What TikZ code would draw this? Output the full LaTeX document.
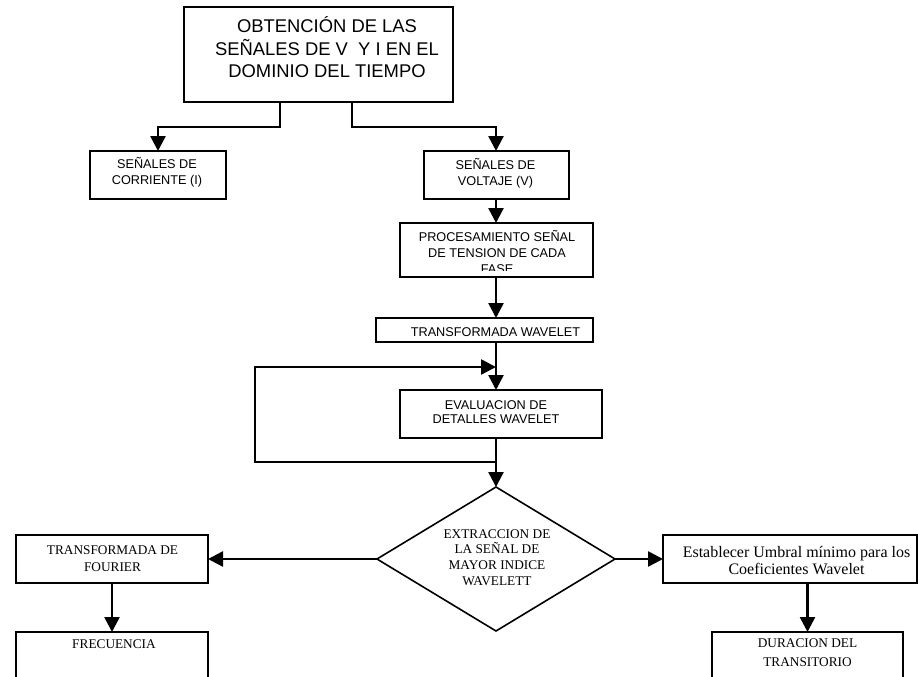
\documentclass[tikz,border=0pt]{standalone}
\usepackage{fontspec}
\setmainfont{Liberation Serif}
\setsansfont{Liberation Sans}
\usetikzlibrary{arrows.meta,shapes.geometric}
\begin{document}
\begin{tikzpicture}[x=1pt,y=-1pt,
  box/.style={draw,line width=2pt,inner sep=0pt,outer sep=0pt,fill=white},
  conn/.style={line width=2.6pt,-{Triangle[length=15pt,width=15pt]}},
  sanslg/.style={font=\sffamily\fontsize{18.4}{22.5}\selectfont,align=center,inner sep=0pt},
  sans/.style={font=\sffamily\fontsize{12.7}{16}\selectfont,align=center,inner sep=0pt},
  serif/.style={font=\rmfamily\fontsize{13.3}{17}\selectfont,align=center,inner sep=0pt},
  seriflg/.style={font=\rmfamily\fontsize{16}{17}\selectfont,align=center,inner sep=0pt},
]
\useasboundingbox (0,0) rectangle (918,677);
\clip (0,0) rectangle (918,677);

% boxes
\node[box,minimum width=269pt,minimum height=95pt] (top) at (318.5,54.5) {};
\node[box,minimum width=136pt,minimum height=48pt] (corr) at (158,175) {};
\node[box,minimum width=145pt,minimum height=48pt] (volt) at (496,175) {};
\node[box,minimum width=193pt,minimum height=54pt] (proc) at (496,250) {};
\node[box,minimum width=217pt,minimum height=24pt] (tw) at (484.5,330) {};
\node[box,minimum width=202pt,minimum height=48pt] (eval) at (501,414) {};
\node[draw,diamond,line width=1.6pt,inner sep=0pt,outer sep=0pt,minimum width=238pt,minimum height=144pt] (dia) at (496,559) {};
\node[box,minimum width=192pt,minimum height=48pt] (four) at (112,559) {};
\node[box,minimum width=192pt,minimum height=70pt] (freq) at (112,667) {};
\node[box,minimum width=254pt,minimum height=48pt] (estab) at (790,559) {};
\node[box,minimum width=191pt,minimum height=70pt] (dur) at (807.5,667) {};

% texts
\node[sanslg] (ttop) at (327,47.5) {OBTENCIÓN DE LAS\\SEÑALES DE V\ \ Y I EN EL\\DOMINIO DEL TIEMPO};
\node[sans] (tcorr) at (157,172.5) {SEÑALES DE\\CORRIENTE (I)};
\node[sans] (tvolt) at (495.5,173) {SEÑALES DE\\VOLTAJE (V)};
\begin{scope}
  \clip (399,223) rectangle (592,270.5);
  \node[sans] (tproc) at (497,252) {PROCESAMIENTO SEÑAL\\DE TENSION DE CADA\\FASE};
\end{scope}
\node[sans] (ttw) at (495.5,332) {TRANSFORMADA WAVELET};
\node[sans,font=\sffamily\fontsize{12.7}{14}\selectfont] (teval) at (496,412) {EVALUACION DE\\DETALLES WAVELET};
\node[serif,font=\rmfamily\fontsize{13.3}{15.7}\selectfont] (tdia) at (497,557.5) {EXTRACCION DE\\LA SEÑAL DE\\MAYOR INDICE\\WAVELETT};
\node[serif] (tfour) at (112.5,558.5) {TRANSFORMADA DE\\FOURIER};
\node[serif] (tfreq) at (114,644) {FRECUENCIA};
\node[seriflg] (testab) at (796.5,561) {Establecer Umbral mínimo para los\\Coeficientes Wavelet};
\node[serif,font=\rmfamily\fontsize{13.3}{19}\selectfont] (tdur) at (807.5,653) {DURACION DEL\\TRANSITORIO};

% connectors
\draw[conn] ([xshift=-38.5pt]top.south) -- ++(0,25) -| (corr.north);
\draw[conn] ([xshift=33.5pt]top.south) -- ++(0,25) -| (volt.north);
\draw[conn] (volt.south) -- (proc.north);
\draw[conn] (proc.south) -- (proc.south |- tw.north);
\draw[conn] (proc.south |- tw.south) -- (proc.south |- eval.north);
\draw[conn] (dia.north |- eval.south) -- (dia.north);
\coordinate (lpA) at (496,462);
\coordinate (lpB) at (496,367);
\draw[conn] (lpA) -- ++(-241,0) |- (lpB);
\draw[conn] (dia.west) -- (four.east);
\draw[conn] (dia.east) -- (estab.west);
\draw[conn] (four.south) -- (freq.north);
\draw[conn] (dur.north |- estab.south) -- (dur.north);
\end{tikzpicture}
\end{document}
